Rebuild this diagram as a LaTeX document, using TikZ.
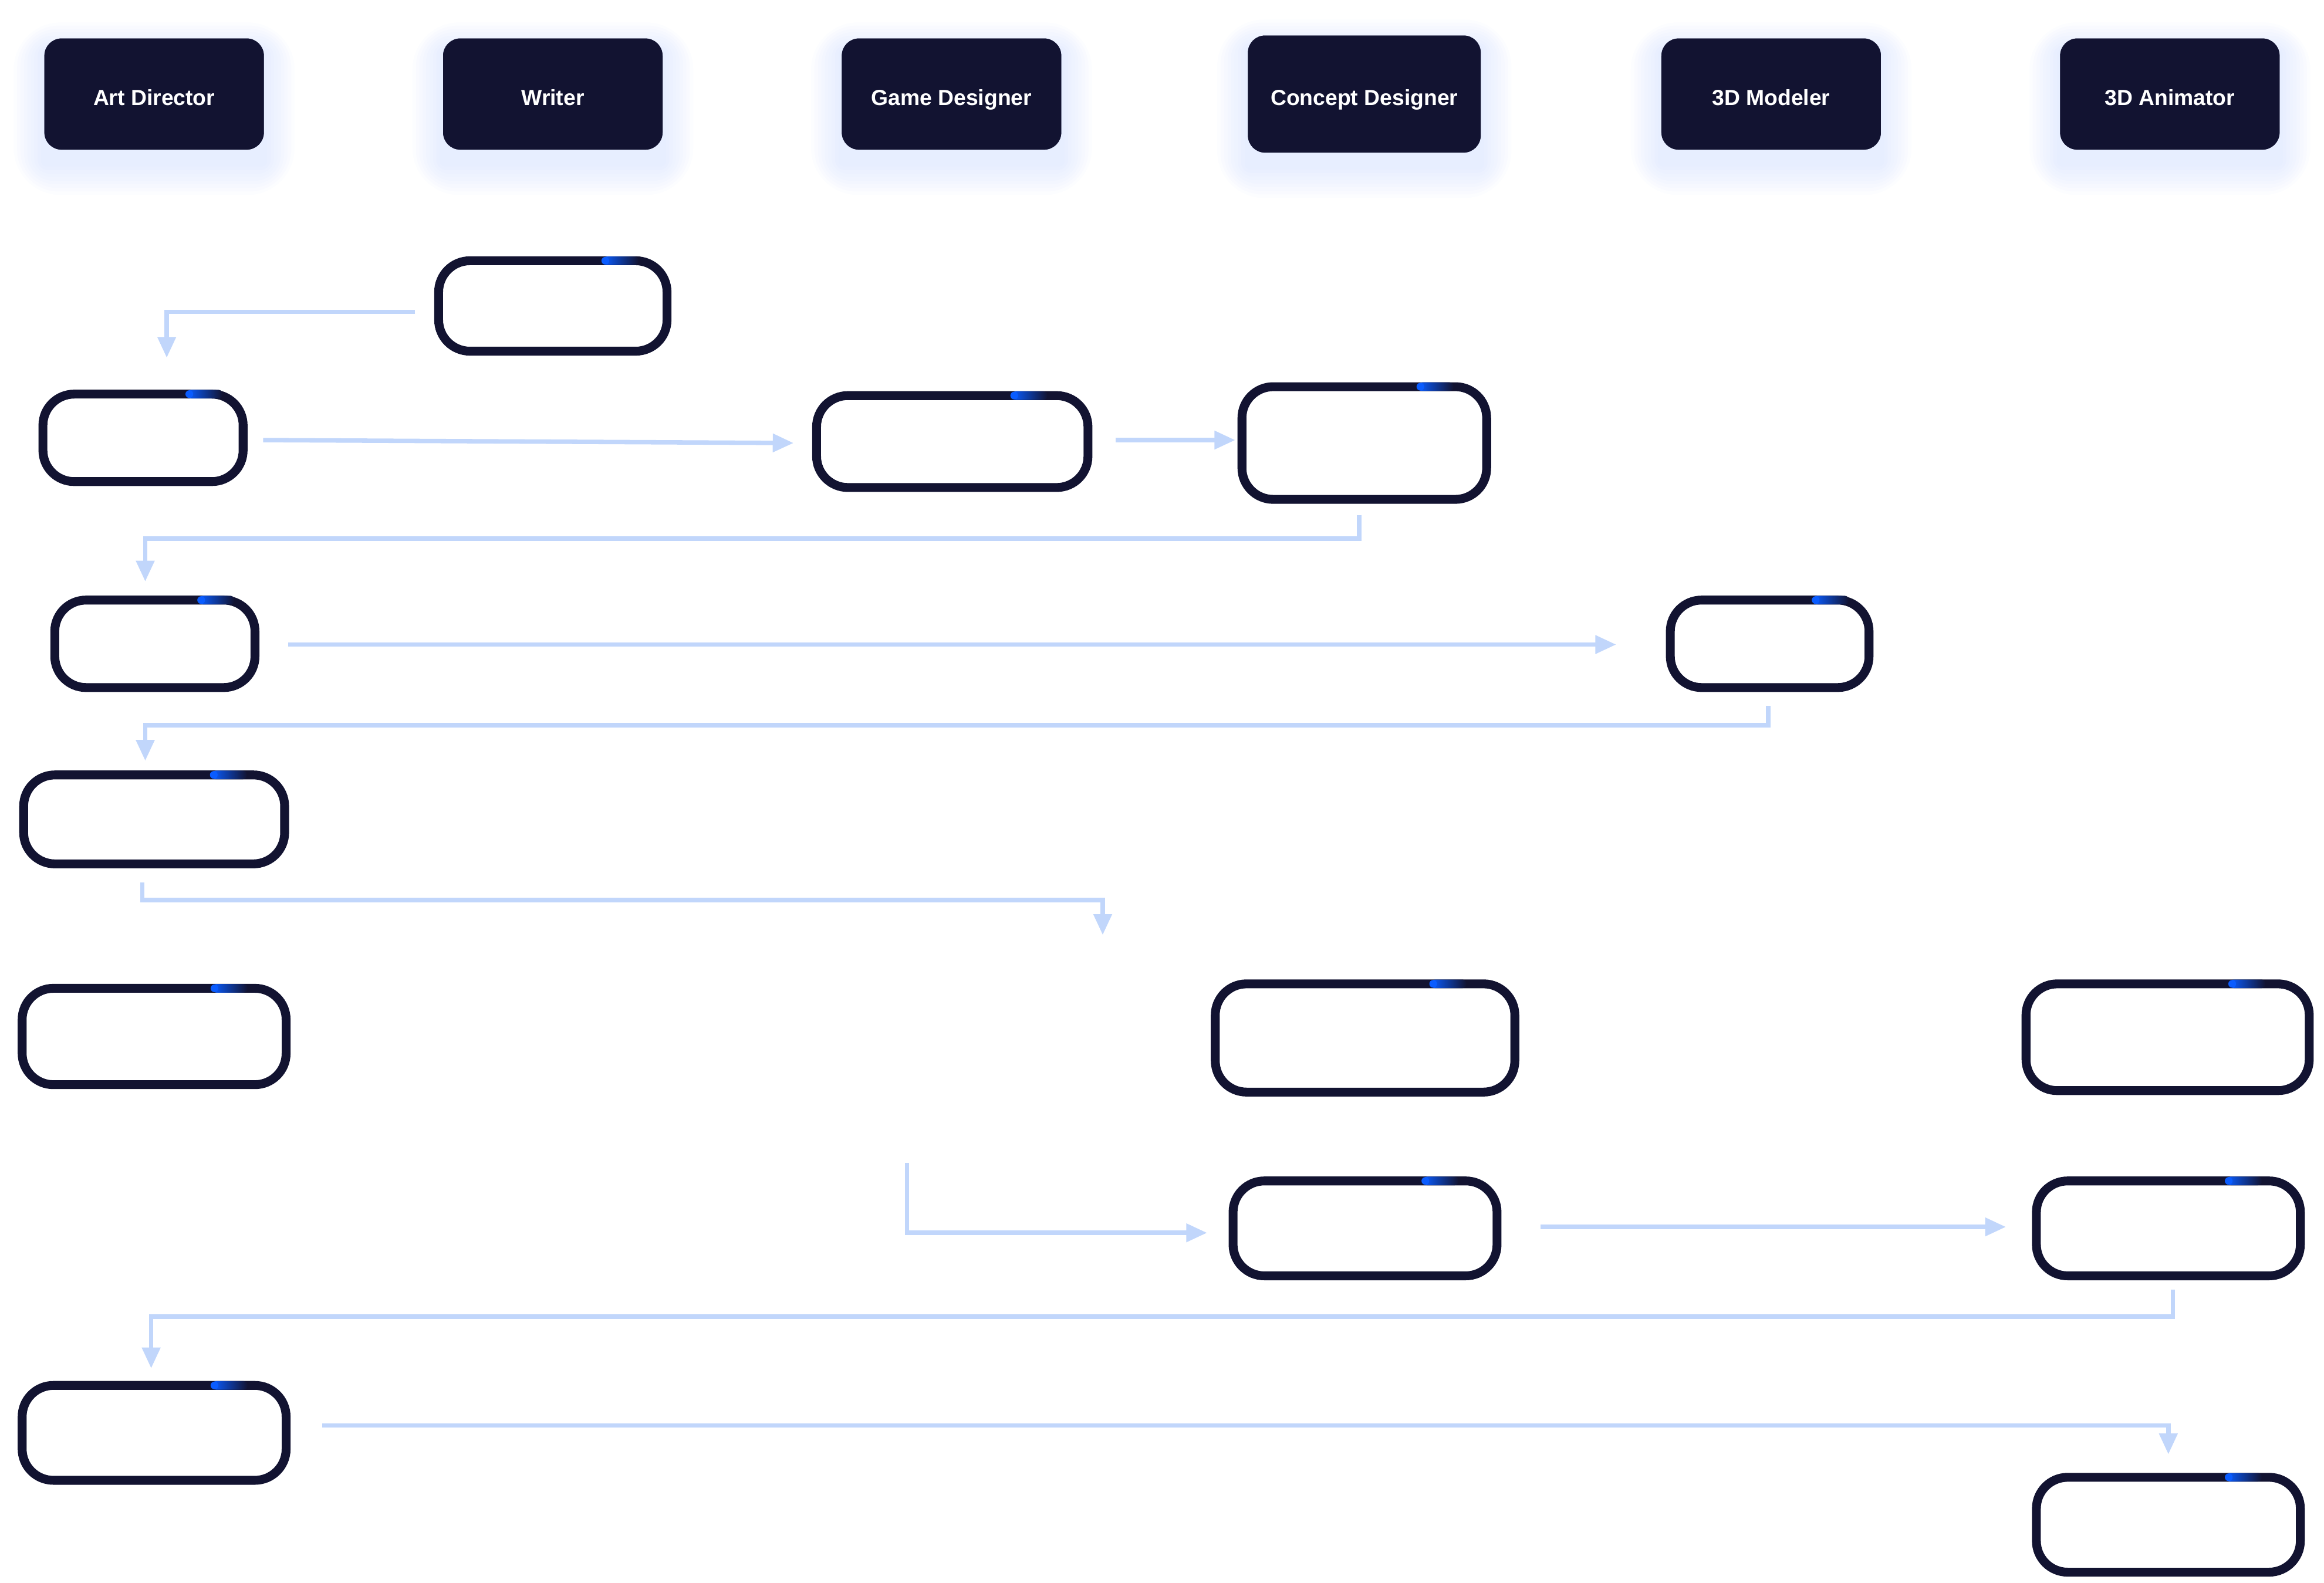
\documentclass[tikz,border=0pt]{standalone}
\usepackage{fontspec}
\setmainfont{Liberation Sans}
\usetikzlibrary{calc,arrows.meta}
\definecolor{navy}{RGB}{18,19,49}
\definecolor{flowblue}{RGB}{193,214,251}
\definecolor{glowblue}{RGB}{196,212,255}
\definecolor{accent}{RGB}{10,92,255}
\begin{document}
\begin{tikzpicture}[x=0.01cm,y=-0.01cm,
  role/.style={fill=navy,rounded corners=3.3pt,outer sep=0pt,inner sep=0pt,
    text=white,font=\bfseries\fontsize{4.2pt}{5pt}\selectfont,text height=4.3pt,text depth=0pt},
  task/.style={draw=navy,fill=white,line width=1.7pt,rounded corners=6pt,outer sep=0pt,inner sep=0pt},
  flow/.style={draw=flowblue,line width=0.85pt,-{Triangle[length=4pt,width=3.4pt]}}]
\useasboundingbox (0,0) rectangle (1568,1068);

\coordinate (gd) at (744,631);
\coordinate (gs) at (612,785);

\node[role,minimum width=1.48cm,minimum height=0.75cm] (AD) at (104,63.5) {};
\node[role,minimum width=1.48cm,minimum height=0.75cm] (WR) at (373,63.5) {};
\node[role,minimum width=1.48cm,minimum height=0.75cm] (GD) at (642,63.5) {};
\node[role,minimum width=1.57cm,minimum height=0.79cm] (CD) at (920.5,63.5) {};
\node[role,minimum width=1.48cm,minimum height=0.75cm] (MD) at (1195,63.5) {};
\node[role,minimum width=1.48cm,minimum height=0.75cm] (AN) at (1464,63.5) {};

\foreach \h in {AD,WR,GD,CD,MD,AN}
  \foreach \g [evaluate=\g as \rr using 3.3+0.8*\g] in {1,...,9}
    \fill[glowblue,fill opacity=0.055,rounded corners=\rr pt]
      ($(\h.south west)+(-2.3*\g,2.4*\g+9)$) rectangle ($(\h.north east)+(2.3*\g,-2.2*\g+9)$);

\node[role,minimum width=1.48cm,minimum height=0.75cm] at (AD) {Art Director};
\node[role,minimum width=1.48cm,minimum height=0.75cm] at (WR) {Writer};
\node[role,minimum width=1.48cm,minimum height=0.75cm] at (GD) {Game Designer};
\node[role,minimum width=1.57cm,minimum height=0.79cm] at (CD) {Concept Designer};
\node[role,minimum width=1.48cm,minimum height=0.75cm] at (MD) {3D Modeler};
\node[role,minimum width=1.48cm,minimum height=0.75cm] at (AN) {3D Animator};

\node[task,minimum width=1.54cm,minimum height=0.61cm] (W1) at (373,206.5) {};
\node[task,minimum width=1.35cm,minimum height=0.59cm] (A1) at (96.5,295.5) {};
\node[task,minimum width=1.83cm,minimum height=0.62cm] (G1) at (642.5,298) {};
\node[task,minimum width=1.65cm,minimum height=0.76cm] (C1) at (920.5,299) {};
\node[task,minimum width=1.35cm,minimum height=0.59cm] (A2) at (104.5,434.5) {};
\node[task,minimum width=1.34cm,minimum height=0.59cm] (M1) at (1194,434.5) {};
\node[task,minimum width=1.76cm,minimum height=0.60cm] (A3) at (104,553) {};
\node[task,minimum width=1.78cm,minimum height=0.65cm] (A4) at (104,699.5) {};
\node[task,minimum width=2.02cm,minimum height=0.73cm] (C2) at (921,700.5) {};
\node[task,minimum width=1.91cm,minimum height=0.72cm] (N1) at (1462.5,700) {};
\node[task,minimum width=1.78cm,minimum height=0.64cm] (C3) at (921,829) {};
\node[task,minimum width=1.78cm,minimum height=0.64cm] (N2) at (1463,829) {};
\node[task,minimum width=1.78cm,minimum height=0.64cm] (A5) at (104,967) {};
\node[task,minimum width=1.78cm,minimum height=0.64cm] (N3) at (1463,1029) {};

\foreach \b in {W1,A1,G1,C1,A2,M1,A3,A4,C2,N1,C3,N2,A5,N3}{
  \shade[left color=accent,right color=navy,rounded corners=0.8pt]
    ($(\b.north west)!0.72!(\b.north east)+(0,-2.9)$) rectangle ++(24,5.8);
  \fill[accent] ($(\b.north west)!0.72!(\b.north east)+(1.5,0)$) circle[radius=2.6];
}

\draw[flow] ($(W1.west)+(-16,4)$) -| ($(A1.north)+(16,-24.5)$);
\draw[flow] ($(A1.east)+(13.5,1.5)$) -- ($(G1.west)+(-15.5,1)$);
\draw[flow] ($(G1.east)+(18.5,-1)$) -- ($(C1.west)+(-4.5,-2)$);
\draw[flow] ($(C1.south)+(-3.5,10.5)$) -- ++(0,16) -| ($(A2.north)+(-6.5,-12.5)$);
\draw[flow] ($(A2.east)+(22.5,0.5)$) -- ($(M1.west)+(-36.5,0.5)$);
\draw[flow] ($(M1.south)+(-1,12.5)$) -- ++(0,13) -| ($(A3.north)+(-6,-9.5)$);
\draw[flow] ($(A3.south)+(-8,12.5)$) -- ++(0,12) -| (gd);
\draw[flow] (gs) |- ($(C3.west)+(-17.5,3)$);
\draw[flow] ($(C3.east)+(29.5,-1)$) -- ($(N2.west)+(-20.5,-1)$);
\draw[flow] ($(N2.south)+(3,9.5)$) -- ++(0,18) -| ($(A5.north)+(-2,-11.5)$);
\draw[flow] ($(A5.east)+(24.5,-5)$) -| ($(N3.north)+(0,-15.5)$);
\end{tikzpicture}
\end{document}
